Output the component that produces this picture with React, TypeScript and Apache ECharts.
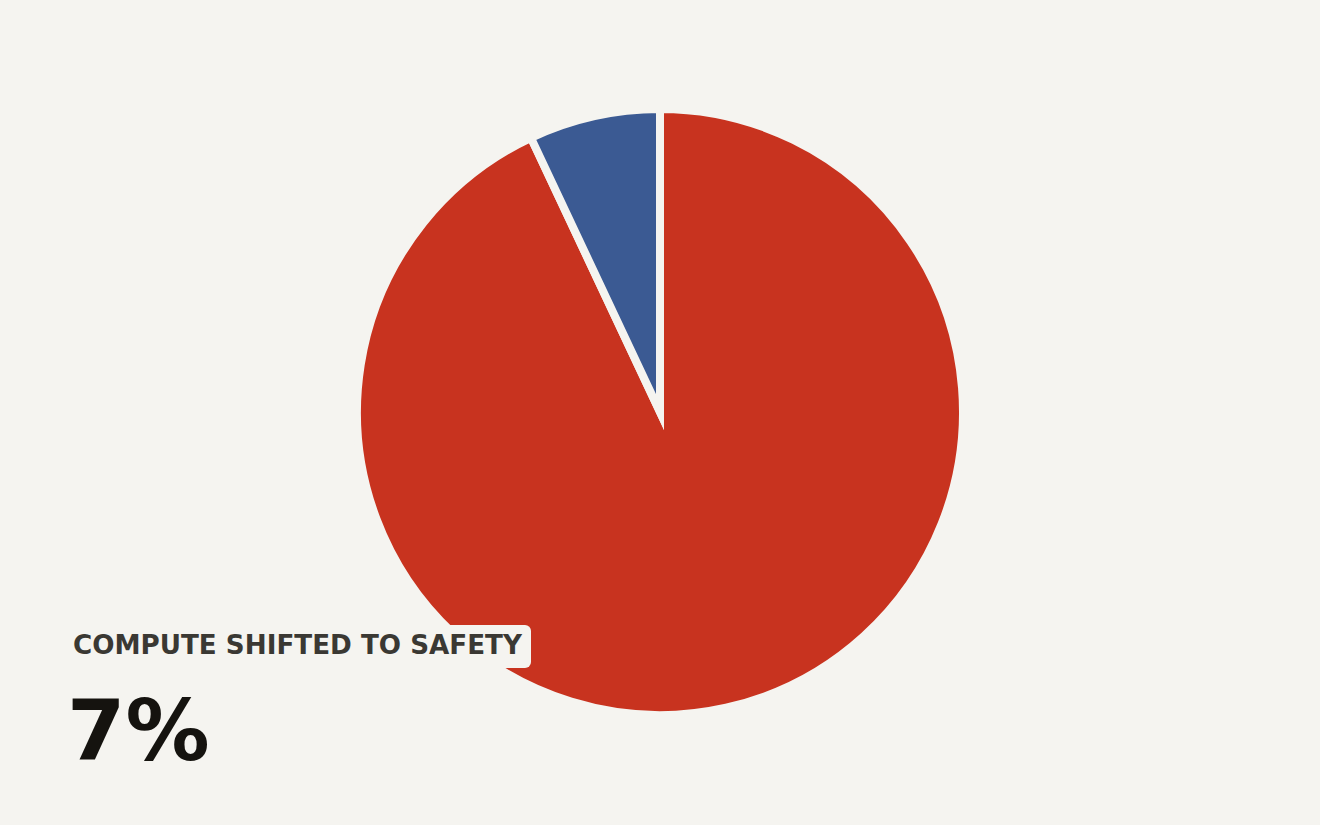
import * as echarts from 'echarts'
import React, { useEffect, useRef } from 'react'

const bg = '#f5f4f0'
const sliceNames = ['Other compute', 'Compute shifted to safety']
const sliceValues = [93, 7]
const sliceColors = ['#c8331f', '#3b5a93']
const labelTitle = 'COMPUTE SHIFTED TO SAFETY'
const labelValue = '7%'

export default function App() {
  const chartRef = useRef(null)

  useEffect(() => {
    document.body.style.margin = '0'
    const chartInstance = echarts.init(chartRef.current, null, { renderer: 'svg' })

    const option = {
      animation: false,
      backgroundColor: bg,
      series: [
        {
          type: 'pie',
          center: [660, 412],
          radius: 303,
          startAngle: 90,
          clockwise: true,
          label: { show: false },
          labelLine: { show: false },
          emphasis: { disabled: true },
          itemStyle: {
            borderColor: bg,
            borderWidth: 8,
            borderJoin: 'miter',
            // svg default limit is 4, zrender skips writing 10
            borderMiterLimit: 12,
          },
          data: sliceValues.map((v, i) => ({
            name: sliceNames[i],
            value: v,
            itemStyle: { color: sliceColors[i] },
          })),
        },
      ],
      graphic: [
        {
          type: 'rect',
          left: 60,
          top: 625,
          shape: { width: 471, height: 43, r: 6 },
          style: { fill: bg },
          z: 10,
        },
        {
          type: 'text',
          left: 73,
          top: 632,
          style: {
            text: labelTitle,
            fill: '#3a3833',
            font: 'bold 26.2px "DejaVu Sans"',
          },
          z: 11,
        },
        {
          type: 'text',
          left: 67,
          top: 689,
          style: {
            text: labelValue,
            fill: '#15130f',
            font: 'bold 84px "DejaVu Sans"',
          },
          z: 11,
        },
      ],
    }

    chartInstance.setOption(option)

    return () => {
      chartInstance.dispose()
    }
  }, [])

  return <div ref={chartRef} style={{ width: '1320px', height: '825px' }} />
}
